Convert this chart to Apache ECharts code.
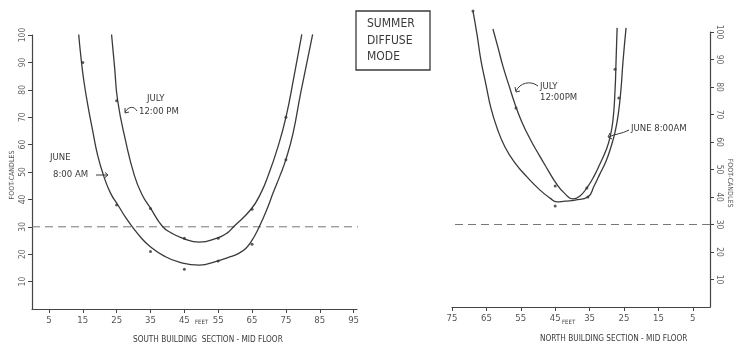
<!DOCTYPE html>
<html>
<head>
<meta charset="utf-8">
<script src="https://cdn.jsdelivr.net/npm/echarts@6/dist/echarts.min.js"></script>
<style>html,body{margin:0;padding:0;background:#fff}#c{width:736px;height:352px}</style>
</head>
<body>
<div id="c"></div>
<script>
// ---- data ----
const southFeetTicks = [5, 15, 25, 35, 45, 55, 65, 75, 85, 95];
const northFeetTicks = [5, 15, 25, 35, 45, 55, 65, 75];
const fcTicks = [10, 20, 30, 40, 50, 60, 70, 80, 90, 100];
const threshold = 30;

// South building curves [feet, foot-candles]
const southJulyCurve = [[23.5,100.2],[24.4,88.2],[25.3,76.1],[27.6,61.6],[30.3,48.5],[32.6,41.5],[35,36.8],[38.5,30.2],[41.2,27.7],[44.4,25.9],[49.4,24.4],[54.7,25.9],[57.6,27.7],[59.7,30.2],[64.7,36.4],[67.6,42.3],[69.7,48.5],[72.6,59],[75,69.9],[77.4,84.9],[79.7,100.2]];
const southJuneCurve = [[13.8,100.2],[14.4,92.5],[15.3,83.4],[16.5,74.3],[17.9,65.2],[19.4,56.1],[21.2,48.5],[23.2,42.3],[25.6,37.5],[27.6,33.5],[29.7,29.9],[32.1,26.2],[34.7,23],[39.1,19.3],[43.5,17.1],[49.4,16],[54.7,17.5],[58.2,18.9],[61.2,20.4],[63.2,22.2],[65,25.1],[66.5,28.4],[67.9,32.1],[69.4,36.4],[71.2,42.3],[73.2,48.5],[75,54.6],[77.1,64.1],[79.4,79.1],[82.9,100.2]];
const southJulyDots = [[25,76],[35,36.7],[45,25.8],[55,25.8],[65,36.4],[75,70]];
const southJuneDots = [[15,90],[25,38],[35,21],[45,14.5],[55,17.5],[65,23.6],[75,54.5]];

// North building curves
const northJulyCurve = [[63.1,101.1],[61.6,94.2],[60.2,87.6],[58.4,80.4],[56.7,73.8],[54.7,67.3],[52.3,61.1],[49.7,55.3],[47.1,49.8],[44.8,45.1],[42.4,41.5],[39.8,39.3],[37.8,40.4],[35.8,43.3],[33.7,47.6],[32,52],[30.2,57.1],[29.1,61.5],[28.2,68],[27.6,78.9],[27.3,89.8],[27,101.5]];
const northJuneCurve = [[68.9,107.6],[67.7,98.9],[66.6,89.8],[65.1,80.7],[63.7,72.4],[61.9,65.1],[59.6,58.2],[56.7,52.4],[53.2,47.3],[49.4,42.5],[46.5,39.6],[44.5,38.2],[42.2,38.5],[39.2,38.9],[35.5,40],[33.7,44],[32,48.4],[30.2,53.1],[28.8,58.2],[27.6,63.6],[26.7,69.8],[25.9,78.9],[25.3,89.1],[24.4,101.5]];
const northJulyDots = [[27.6,86.5],[35.8,43.3],[45,44],[56.4,72.4]];
const northJuneDots = [[26.5,76],[35.5,40],[45,36.7],[68.9,107.6]];

const southRange = [0, 96];
const northRange = [0, 75];

// ---- chart ----
const FONT = "'Liberation Sans Narrow','DejaVu Sans Condensed','DejaVu Sans',sans-serif";
const INK = '#3a3a3a';
const chart = echarts.init(document.getElementById('c'), null, {renderer: 'canvas'});

function curve(data, xi) {
  return {type: 'line', xAxisIndex: xi, yAxisIndex: xi, data: data, smooth: 0.5, showSymbol: false,
    clip: false, lineStyle: {color: INK, width: 1.3}, silent: true, z: 3};
}
function dots(data, xi) {
  return {type: 'scatter', xAxisIndex: xi, yAxisIndex: xi, data: data, symbolSize: 3,
    itemStyle: {color: '#333'}, clip: false, silent: true, z: 4};
}
function dashed(xmax, xi) {
  return {type: 'line', xAxisIndex: xi, yAxisIndex: xi, data: [[0, threshold], [xmax, threshold]],
    showSymbol: false, clip: false, lineStyle: {color: '#777', width: 1, type: [8, 5]}, silent: true, z: 2};
}
function txt(x, y, text, size) {
  return {type: 'text', left: x, top: y, style: {text: text, fontSize: size, fontFamily: FONT, fill: INK}};
}
function arrow(shape, tip) {
  return [
    {type: 'bezierCurve', shape: shape, style: {stroke: INK, lineWidth: 1, fill: null}},
    {type: 'polyline', shape: {points: tip}, style: {stroke: INK, lineWidth: 1, fill: null}}
  ];
}

const xCommon = {
  type: 'value', splitLine: {show: false},
  axisLine: {show: true, onZero: false, lineStyle: {color: '#444', width: 1.2}},
};
const yCommon = {
  type: 'value', min: 0, max: 100, splitLine: {show: false},
  axisLine: {show: true, onZero: false, lineStyle: {color: '#444', width: 1.2}},
  axisTick: {show: true, customValues: fcTicks, length: 4, lineStyle: {color: '#444'}},
};

const option = {
  backgroundColor: '#ffffff',
  animation: false,
  grid: [
    {left: 32, top: 35, width: 325, height: 274},
    {left: 452, top: 32, width: 258, height: 275}
  ],
  xAxis: [
    Object.assign({}, xCommon, {gridIndex: 0, min: southRange[0], max: southRange[1],
      axisTick: {customValues: southFeetTicks, length: 4, lineStyle: {color: '#444'}},
      axisLabel: {customValues: southFeetTicks, fontSize: 9.5, color: '#555', fontFamily: FONT, margin: 7}}),
    Object.assign({}, xCommon, {gridIndex: 1, min: northRange[0], max: northRange[1], inverse: true,
      axisTick: {customValues: northFeetTicks, length: 4, lineStyle: {color: '#444'}},
      axisLabel: {customValues: northFeetTicks, fontSize: 9.5, color: '#555', fontFamily: FONT, margin: 7}})
  ],
  yAxis: [
    Object.assign({}, yCommon, {gridIndex: 0, position: 'left',
      axisLabel: {customValues: fcTicks, rotate: 90, fontSize: 8.5, color: '#666', fontFamily: FONT, margin: 5}}),
    Object.assign({}, yCommon, {gridIndex: 1, position: 'right',
      axisLabel: {customValues: fcTicks, rotate: -90, fontSize: 8.5, color: '#666', fontFamily: FONT, margin: 5}})
  ],
  series: [
    dashed(97, 0), dashed(77, 1),
    curve(southJulyCurve, 0), curve(southJuneCurve, 0),
    dots(southJulyDots, 0), dots(southJuneDots, 0),
    curve(northJulyCurve, 1), curve(northJuneCurve, 1),
    dots(northJulyDots, 1), dots(northJuneDots, 1)
  ],
  graphic: [
    {type: 'rect', shape: {x: 356, y: 11, width: 74, height: 59}, style: {stroke: INK, lineWidth: 1.3, fill: null}},
    {type: 'text', left: 367, top: 16, style: {text: 'SUMMER\nDIFFUSE\nMODE', fontSize: 12, lineHeight: 16.5, fontFamily: FONT, fill: INK}},
    txt(147, 94, 'JULY', 9.5),
    txt(139, 107, '12:00 PM', 9.5),
    txt(50, 153, 'JUNE', 9.5),
    txt(53, 170, '8:00 AM', 9.5),
    txt(540, 82, 'JULY', 9.5),
    txt(540, 93, '12:00PM', 9.5),
    txt(631, 124, 'JUNE 8:00AM', 9.5),
    txt(195, 319, 'FEET', 6),
    txt(562, 319, 'FEET', 6),
    txt(133, 336, 'SOUTH BUILDING  SECTION - MID FLOOR', 8.2),
    txt(540, 335, 'NORTH BUILDING SECTION - MID FLOOR', 8.2),
    {type: 'text', x: 12, y: 175, rotation: Math.PI / 2,
      style: {text: 'FOOT-CANDLES', fontSize: 7, fontFamily: FONT, fill: '#555', align: 'center', verticalAlign: 'middle'}},
    {type: 'text', x: 730, y: 183, rotation: -Math.PI / 2,
      style: {text: 'FOOT-CANDLES', fontSize: 7, fontFamily: FONT, fill: '#555', align: 'center', verticalAlign: 'middle'}}
  ]
    .concat(arrow({x1: 137, y1: 111, cpx1: 134, cpy1: 106, cpx2: 129, cpy2: 106, x2: 125, y2: 112}, [[125,108],[125,113],[129,112]]))
    .concat(arrow({x1: 96, y1: 175, cpx1: 100, cpy1: 175, cpx2: 104, cpy2: 175, x2: 108, y2: 175}, [[105,172.5],[108,175],[105,177.5]]))
    .concat(arrow({x1: 538, y1: 86, cpx1: 530, cpy1: 80, cpx2: 520, cpy2: 83, x2: 516, y2: 91}, [[515,87],[516,92],[520,91]]))
    .concat(arrow({x1: 629, y1: 130, cpx1: 622, cpy1: 134, cpx2: 614, cpy2: 134, x2: 609, y2: 137}, [[610,133],[608,137],[612,139]]))
};
chart.setOption(option);
</script>
</body>
</html>
